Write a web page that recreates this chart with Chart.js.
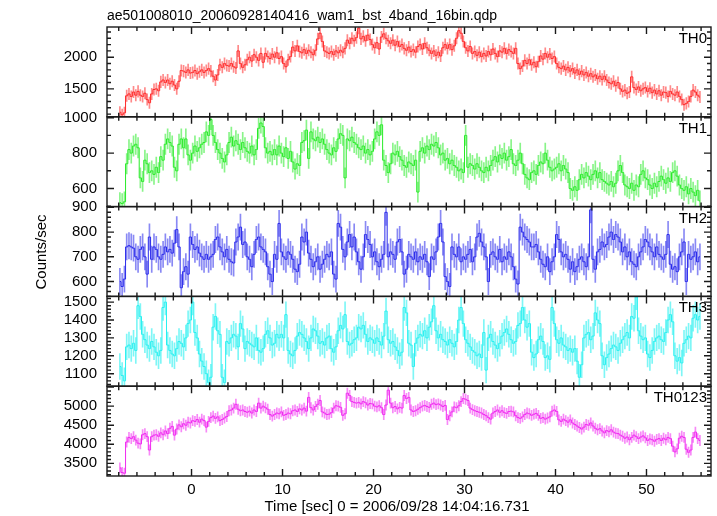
<!DOCTYPE html>
<html>
<head>
<meta charset="utf-8">
<title>ae501008010 WAM light curve</title>
<script src="https://cdn.jsdelivr.net/npm/chart.js@4.4.1/dist/chart.umd.min.js"></script>
<style>
  html, body { margin: 0; padding: 0; background: #fff; }
  canvas { display: block; }
</style>
</head>
<body>
<canvas id="lc" width="717" height="516"></canvas>
<script>
// light curve in 0.25 s bins, first bin centre at -7.875 s
const binStart = -7.875;
const binWidth = 0.25;

const bands = ['TH0', 'TH1', 'TH2', 'TH3', 'TH0123'];

const th0 = [
  1130,1090,1120,1390, 1420,1380,1450,1400, 1460,1400,1380,1430, 1330,1280,1420,1490,
  1500,1470,1610,1640, 1600,1640,1580,1620, 1560,1500,1620,1790, 1780,1760,1800,1750,
  1760,1790,1740,1770, 1800,1760,1790,1820, 1780,1700,1640,1720, 1880,1840,1900,1870,
  1860,1900,1850,1830, 2100,1900,1840,1880, 1960,2000,1940,2040, 2000,1950,2060,1920,
  2060,2010,1980,2050, 2000,2070,1980,2010, 1900,1850,1960,2010, 2160,2100,2180,2090,
  2070,2120,2060,2110, 2080,2040,2110,2290, 2380,2250,2100,2080, 2060,2090,2040,2100,
  2070,2110,2080,2140, 2270,2220,2300,2260, 2310,2460,2290,2330, 2260,2350,2280,2200,
  2150,2230,2130,2320, 2370,2300,2260,2220, 2270,2190,2250,2170, 2200,2140,2110,2160,
  2090,2120,2080,2170, 2200,2130,2220,2150, 2110,2060,2100,2030, 2080,2020,2150,2200,
  2140,2200,2120,2180, 2300,2420,2380,2250, 2150,2100,2170,2060, 2090,2030,2080,2010,
  2060,2020,2090,2040, 2130,2060,2010,2100, 2080,2140,2060,2120, 2090,2060,2140,1900,
  1820,1860,1950,1900, 1960,1880,1920,1850, 1930,2020,1970,2060, 2000,2050,1980,2010,
  1900,1840,1820,1860, 1800,1840,1780,1820, 1750,1800,1730,1780, 1720,1760,1700,1740,
  1690,1720,1660,1700, 1650,1700,1640,1600, 1580,1620,1550,1600, 1500,1460,1480,1430,
  1450,1690,1520,1490, 1530,1470,1500,1520, 1460,1510,1440,1480, 1420,1470,1400,1450,
  1440,1380,1460,1420, 1400,1450,1380,1330, 1250,1270,1300,1380, 1480,1450,1400,1370
];

const th1 = [
  520,515,525,740, 820,800,840,850, 830,660,640,760, 740,690,700,680,
  720,690,780,760, 850,880,860,840, 720,700,850,880, 830,880,790,760,
  800,840,810,830, 850,860,920,900, 990,900,860,820, 800,770,750,790,
  860,890,840,870, 850,820,860,830, 810,800,840,790, 820,940,970,950,
  830,800,810,790, 820,790,840,800, 780,830,770,810, 750,710,740,730,
  860,870,930,770, 920,880,870,890, 860,880,850,820, 800,790,830,810,
  880,910,900,660, 880,870,890,860, 850,830,820,840, 800,820,790,810,
  880,920,900,960, 760,730,690,740, 800,790,810,780, 760,730,720,750,
  740,730,760,580, 810,830,800,840, 820,850,840,860, 830,790,800,760,
  770,740,760,730, 720,700,710,690, 900,720,740,730, 710,740,720,700,
  690,720,700,730, 760,780,750,790, 770,800,760,780, 820,740,730,760,
  800,740,680,660, 650,690,700,680, 730,750,740,800, 760,720,700,710,
  720,740,700,730, 710,690,600,590, 610,590,650,680, 660,690,670,650,
  680,700,660,690, 650,640,630,620, 640,610,630,700, 730,690,620,610,
  600,630,590,620, 610,680,700,660, 650,620,600,630, 610,640,670,650,
  630,660,640,690, 700,670,620,600, 590,610,570,600, 580,560,590,530
];

const th2 = [
  600,580,610,740, 745,740,735,700, 690,730,740,700, 630,780,690,740,
  730,700,690,710, 740,720,730,715, 755,810,740,575, 640,660,630,780,
  750,730,740,715, 700,690,710,690, 700,710,770,780, 740,720,700,730,
  690,680,675,760, 780,820,750,760, 700,690,660,710, 770,780,740,730,
  720,660,630,600, 710,690,835,720, 700,690,720,710, 690,650,640,670,
  780,760,800,715, 690,660,680,700, 650,670,690,710, 700,720,630,610,
  835,820,730,700, 760,790,740,780, 720,680,650,700, 790,770,750,700,
  720,680,660,690, 710,880,700,720, 710,690,760,770, 720,630,650,710,
  700,690,720,680, 700,690,710,680, 620,700,690,720, 780,835,760,620,
  600,580,740,710, 700,740,680,700, 690,710,730,680, 700,780,795,760,
  740,700,600,710, 720,700,690,730, 680,700,690,720, 700,660,610,590,
  820,800,780,770, 760,740,740,750, 720,690,670,660, 700,640,680,700,
  790,770,720,700, 710,690,650,680, 640,660,690,700, 680,660,700,890,
  690,650,720,730, 760,740,750,780, 800,770,790,780, 760,720,740,700,
  720,680,670,660, 700,720,740,770, 760,740,720,700, 740,710,700,690,
  710,790,670,650, 660,640,700,720, 760,600,710,690, 700,720,680,700
];

const th3 = [
  1140,1090,1060,1250, 1260,1240,1270,1230, 1480,1420,1320,1290, 1260,1240,1280,1250,
  1220,1200,1230,1470, 1500,1260,1230,1210, 1200,1240,1280,1270, 1250,1300,1380,1400,
  1500,1330,1300,1210, 1170,1140,1100,1050, 1080,1360,1420,1340, 1320,1080,1050,1280,
  1270,1300,1320,1310, 1250,1380,1350,1240, 1280,1270,1260,1250, 1300,1230,1220,1240,
  1320,1340,1300,1260, 1270,1320,1300,1320, 1300,1430,1230,1210, 1200,1230,1310,1330,
  1320,1300,1280,1240, 1300,1350,1340,1310, 1270,1280,1260,1300, 1310,1240,1220,1250,
  1340,1370,1350,1430, 1280,1260,1270,1290, 1300,1360,1350,1370, 1320,1280,1300,1290,
  1270,1300,1280,1260, 1310,1450,1290,1270, 1280,1250,1230,1200, 1220,1470,1440,1270,
  1260,1140,1270,1300, 1320,1310,1340,1300, 1360,1390,1480,1340, 1300,1320,1290,1280,
  1260,1290,1270,1250, 1280,1400,1470,1380, 1290,1270,1250,1230, 1220,1200,1210,1190,
  1330,1120,1300,1320, 1280,1260,1240,1270, 1310,1330,1350,1320, 1290,1270,1280,1370,
  1380,1470,1400,1360, 1380,1220,1190,1210, 1290,1310,1280,1190, 1200,1180,1470,1380,
  1290,1270,1300,1260, 1250,1230,1240,1220, 1240,1170,1080,1150, 1300,1320,1330,1290,
  1310,1440,1400,1380, 1200,1150,1190,1210, 1240,1260,1250,1230, 1270,1290,1310,1330,
  1300,1420,1410,1530, 1340,1310,1290,1300, 1210,1190,1230,1280, 1300,1310,1290,1280,
  1330,1400,1430,1390, 1200,1170,1190,1160, 1270,1290,1310,1300, 1410,1430,1400,1420
];

const th0123 = [
  3380,3260,3240,4060, 4180,4150,4200,4110, 4030,4010,4250,4280, 4200,3850,4200,4240,
  4250,4210,4300,4250, 4350,4280,4420,4470, 4240,4400,4510,4460, 4540,4500,4580,4560,
  4620,4600,4650,4580, 4660,4620,4450,4600, 4700,4740,4680,4720, 4620,4650,4690,4730,
  4880,4900,4950,5050, 4920,4880,4900,4860, 4840,4870,4820,4900, 4860,5080,4950,5000,
  4960,4920,4780,4740, 4780,4820,4800,4850, 4760,4780,4820,4800, 4880,4900,4860,4930,
  4900,4950,4870,5230, 4960,4900,4990,5050, 5150,4850,4820,4780, 4790,4830,4950,5010,
  5000,4970,4760,4800, 5340,5280,5120,5100, 5080,5100,5060,5120, 5090,5030,5070,5060,
  5000,4980,5010,4960, 4780,5030,5420,5080, 4960,4990,4930,4970, 4950,5280,5200,5230,
  4900,4860,4880,4920, 4960,5000,5020,4990, 4970,5050,5080,5040, 5060,5030,4990,5020,
  4650,4750,4850,4980, 4960,5010,5120,5200, 5180,5150,4950,4910, 4880,4860,4840,4820,
  4780,4750,4700,4660, 4820,4860,4900,4840, 4880,4830,4810,4860, 4870,4850,4750,4700,
  4680,4720,4780,4820, 4800,4760,4790,4810, 4760,4680,4700,4660, 4690,4720,4870,4900,
  4860,4640,4600,4660, 4620,4580,4640,4560, 4520,4480,4440,4400, 4450,4520,4500,4560,
  4480,4420,4380,4410, 4350,4300,4360,4330, 4380,4320,4290,4280, 4240,4210,4160,4190,
  4120,4180,4240,4200, 4150,4190,4220,4170, 4100,4140,4120,4080, 4130,4150,4100,4160,
  4120,4180,4150,3950, 3800,3880,4160,4210, 4180,3870,3790,3850, 4180,4320,4150,4100
];

const bandRates = [th0, th1, th2, th3, th0123];
// typical 1-sigma error of one bin, per band (counts/sec)
const bandErrors = [90, 57, 53, 72, 134];

// axis ranges and labelled ticks for each panel
const yRanges = [[1058, 2478], [498, 1005], [540, 903], [1030, 1532], [3168, 5524]];
const yTickLabels = [
  [1500, 2000],
  [600, 800, 1000],
  [600, 700, 800, 900],
  [1100, 1200, 1300, 1400, 1500],
  [3500, 4000, 4500, 5000]
];
const yMajorStep = [500, 200, 100, 100, 500];
const yMinorStep = [100, 100, 20, 20, 100];
const xRange = [-9.29, 57.09];

const lineColors = ['rgb(255,40,40)', 'rgb(40,235,40)', 'rgb(40,40,235)', 'rgb(40,240,240)', 'rgb(240,40,240)'];
const barColors = ['rgba(255,40,40,0.55)', 'rgba(40,235,40,0.55)', 'rgba(40,40,235,0.55)', 'rgba(40,240,240,0.6)', 'rgba(240,40,240,0.55)'];

const FONT = '"Liberation Sans", Arial, Helvetica, sans-serif';
Chart.defaults.font.family = FONT;
Chart.defaults.font.size = 15;
Chart.defaults.color = '#000';

const binTime = i => binStart + i * binWidth;

// datasets: vertical error bars (floating bars) under a stepped line
const datasets = [];
bandRates.forEach((rates, k) => {
  datasets.push({
    type: 'bar',
    data: rates.map((v, i) => ({ x: binTime(i), y: [v - bandErrors[k], v + bandErrors[k]] })),
    yAxisID: 'y' + k,
    backgroundColor: barColors[k],
    borderWidth: 0,
    barThickness: 1,
    grouped: false,
    order: 2
  });
  datasets.push({
    type: 'line',
    data: rates.map((v, i) => ({ x: binTime(i), y: v })),
    yAxisID: 'y' + k,
    borderColor: lineColors[k],
    borderWidth: 1,
    stepped: 'middle',
    pointRadius: 0,
    fill: false,
    order: 1
  });
});

const scales = {
  x: {
    type: 'linear',
    position: 'bottom',
    min: xRange[0],
    max: xRange[1],
    offset: false,
    grid: { display: false, drawTicks: false },
    border: { display: false },
    ticks: { stepSize: 10, includeBounds: false, padding: 5, maxRotation: 0, autoSkip: false },
    afterFit: s => { s.height = 40; }
  }
};
// stacked axes are laid out bottom-up, so add the last panel first
for (let k = bands.length - 1; k >= 0; k--) {
  scales['y' + k] = {
    type: 'linear',
    position: 'left',
    stack: 'panels',
    stackWeight: 1,
    min: yRanges[k][0],
    max: yRanges[k][1],
    offset: false,
    grid: { display: false, drawTicks: false },
    border: { display: false },
    ticks: { padding: 10, autoSkip: false, callback: v => String(v) },
    afterBuildTicks: s => { s.ticks = yTickLabels[k].map(v => ({ value: v })); },
    afterFit: s => { s.width = 107; }
  };
}

// frame, inward ticks, panel names and titles in the qdp style
const qdpFrame = {
  id: 'qdpFrame',
  beforeDatasetDraw(chart, args) {
    const ys = chart.scales[args.meta.yAxisID];
    const area = chart.chartArea;
    const ctx = chart.ctx;
    ctx.save();
    ctx.beginPath();
    ctx.rect(area.left, ys.top, area.right - area.left, ys.bottom - ys.top);
    ctx.clip();
  },
  afterDatasetDraw(chart) {
    chart.ctx.restore();
  },
  afterDraw(chart) {
    const ctx = chart.ctx;
    const xs = chart.scales.x;
    const { left, right } = chart.chartArea;
    ctx.save();
    ctx.strokeStyle = '#1a1a1a';
    ctx.lineWidth = 1.4;
    bands.forEach((name, k) => {
      const ys = chart.scales['y' + k];
      const top = ys.top, bottom = ys.bottom;
      ctx.strokeRect(left, top, right - left, bottom - top);
      ctx.beginPath();
      for (let t = Math.ceil(xs.min / 2) * 2; t <= xs.max; t += 2) {
        const px = xs.getPixelForValue(t);
        const len = t % 10 === 0 ? 7 : 4;
        ctx.moveTo(px, bottom); ctx.lineTo(px, bottom - len);
        ctx.moveTo(px, top); ctx.lineTo(px, top + len);
      }
      const step = yMinorStep[k];
      for (let v = Math.ceil(ys.min / step) * step; v <= ys.max; v += step) {
        const py = ys.getPixelForValue(v);
        const len = v % yMajorStep[k] === 0 ? 7 : 4;
        ctx.moveTo(left, py); ctx.lineTo(left + len, py);
        ctx.moveTo(right, py); ctx.lineTo(right - len, py);
      }
      ctx.stroke();
      ctx.fillStyle = '#000';
      ctx.font = '15px ' + FONT;
      ctx.textAlign = 'right';
      ctx.textBaseline = 'alphabetic';
      ctx.fillText(name, right - 4, top + 16);
    });

    ctx.fillStyle = '#000';
    ctx.textBaseline = 'middle';
    ctx.font = '14px ' + FONT;
    ctx.textAlign = 'left';
    ctx.fillText('ae501008010_20060928140416_wam1_bst_4band_16bin.qdp', left, 16);

    ctx.font = '15px ' + FONT;
    ctx.textAlign = 'center';
    ctx.fillText('Time [sec] 0 = 2006/09/28 14:04:16.731', 397, 507);

    ctx.translate(42, 252);
    ctx.rotate(-Math.PI / 2);
    ctx.fillText('Counts/sec', 0, 0);
    ctx.restore();
  }
};

new Chart(document.getElementById('lc'), {
  type: 'line',
  data: { datasets },
  options: {
    responsive: false,
    animation: false,
    events: [],
    layout: { padding: { top: 27, right: 6, left: 0, bottom: 0 } },
    plugins: { legend: { display: false }, tooltip: { enabled: false } },
    scales
  },
  plugins: [qdpFrame]
});
</script>
</body>
</html>
